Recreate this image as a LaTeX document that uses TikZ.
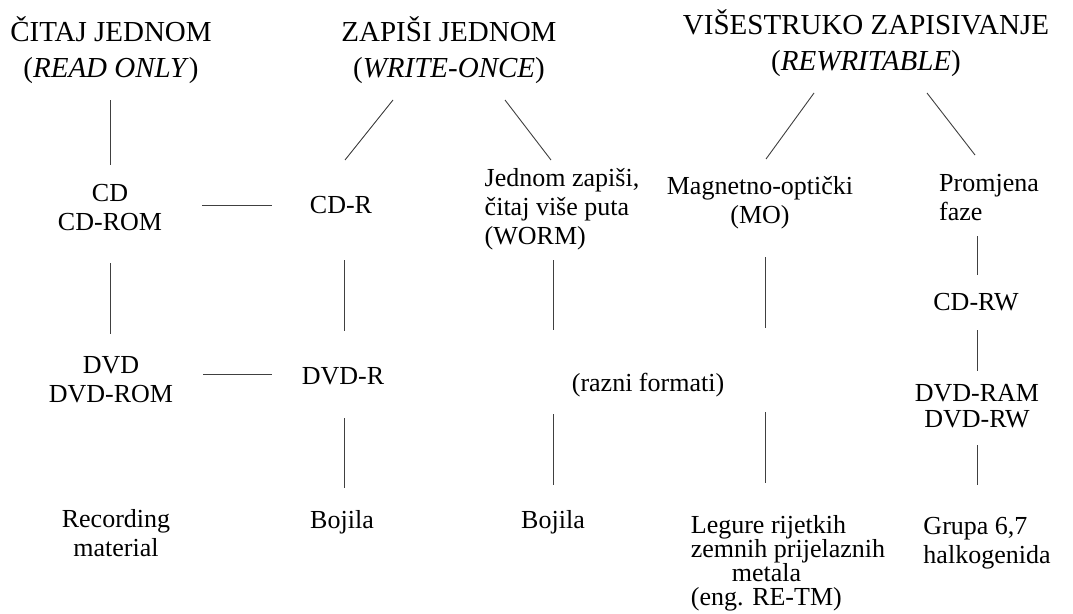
\documentclass[tikz,border=0pt]{standalone}
\usepackage{fontspec}
\setmainfont{Liberation Serif}
\begin{document}
\begin{tikzpicture}[x=1pt,y=-1pt,
  hdr/.style={font=\fontsize{29}{36}\selectfont, align=center, inner sep=0pt},
  lbl/.style={font=\fontsize{26}{29}\selectfont, inner sep=0pt},
  conn/.style={draw=black!75, line width=0.9pt}]
\useasboundingbox[fill=white] (0,0) rectangle (1073,613);

% headers
\node[hdr] (ro) at (111,50) {ČITAJ JEDNOM\\(\textit{READ ONLY})};
\node[hdr] (wo) at (449,50) {ZAPIŠI JEDNOM\\(\textit{WRITE-ONCE})};
\node[hdr] (rw) at (866,43) {VIŠESTRUKO ZAPISIVANJE\\(\textit{REWRITABLE})};

% second row
\node[lbl, align=center] (cd) at (110,208) {CD\\CD-ROM};
\node[lbl] (cdr) at (341,205) {CD-R};
\node[lbl, align=left] (worm) at (562,209) {Jednom zapiši,\\čitaj više puta\\(WORM)};
\node[lbl, align=center] (mo) at (760,203) {Magnetno-optički\\(MO)};
\node[lbl, align=left] (pf) at (989,198) {Promjena\\faze};
\node[lbl] (cdrw) at (976,302) {CD-RW};

% third row
\node[lbl, align=center] (dvd) at (111,380) {DVD\\DVD-ROM};
\node[lbl] (dvdr) at (343,376) {DVD-R};
\node[lbl] (razni) at (648,385) {(razni formati)};
\node[lbl, align=center, font=\fontsize{26}{26}\selectfont] (dvdram) at (977,406) {DVD-RAM\\DVD-RW};

% bottom row
\node[lbl, align=center] (rec) at (116,533) {Recording\\material};
\node[lbl] (boj1) at (342,522) {Bojila};
\node[lbl] (boj2) at (553,522) {Bojila};
\node[lbl, align=left, font=\fontsize{26}{24}\selectfont] (leg) at (788,563)
  {Legure rijetkih\\zemnih prijelaznih\\\hspace*{41pt}metala\\(eng. RE-TM)};
\node[lbl, align=left] (grupa) at (987,543) {Grupa 6,7\\halkogenida};

% connector end points
\coordinate (ro-s) at (110,100);  \coordinate (cd-n) at (110,165);
\coordinate (wo-sw) at (393,100); \coordinate (cdr-n) at (345,160);
\coordinate (wo-se) at (505,100); \coordinate (worm-n) at (551,160);
\coordinate (rw-sw) at (814,93);  \coordinate (mo-n) at (766,159);
\coordinate (rw-se) at (927,93);  \coordinate (pf-n) at (975,155);
\coordinate (cd-e) at (202,205);  \coordinate (cdr-w) at (272,205);
\coordinate (cd-s) at (110,263);  \coordinate (dvd-n) at (110,334);
\coordinate (cdr-s) at (344,260); \coordinate (dvdr-n) at (344,331);
\coordinate (worm-s) at (553,260); \coordinate (razni-nw) at (553,330);
\coordinate (mo-s) at (765,257);  \coordinate (razni-ne) at (765,328);
\coordinate (pf-s) at (977,236);  \coordinate (cdrw-n) at (977,275);
\coordinate (cdrw-s) at (977,330); \coordinate (dvdram-n) at (977,371);
\coordinate (dvd-e) at (203,374); \coordinate (dvdr-w) at (272,374);
\coordinate (dvdr-s) at (344,418); \coordinate (boj1-n) at (344,488);
\coordinate (razni-sw) at (553,414); \coordinate (boj2-n) at (553,485);
\coordinate (razni-se) at (765,412); \coordinate (leg-n) at (765,483);
\coordinate (dvdram-s) at (977,445); \coordinate (grupa-n) at (977,485);

% connectors
\draw[conn] (ro-s) -- (cd-n);
\draw[conn] (wo-sw) -- (cdr-n);
\draw[conn] (wo-se) -- (worm-n);
\draw[conn] (rw-sw) -- (mo-n);
\draw[conn] (rw-se) -- (pf-n);
\draw[conn] (cd-e) -- (cdr-w);
\draw[conn] (cd-s) -- (dvd-n);
\draw[conn] (cdr-s) -- (dvdr-n);
\draw[conn] (worm-s) -- (razni-nw);
\draw[conn] (mo-s) -- (razni-ne);
\draw[conn] (pf-s) -- (cdrw-n);
\draw[conn] (cdrw-s) -- (dvdram-n);
\draw[conn] (dvd-e) -- (dvdr-w);
\draw[conn] (dvdr-s) -- (boj1-n);
\draw[conn] (razni-sw) -- (boj2-n);
\draw[conn] (razni-se) -- (leg-n);
\draw[conn] (dvdram-s) -- (grupa-n);
\end{tikzpicture}
\end{document}
